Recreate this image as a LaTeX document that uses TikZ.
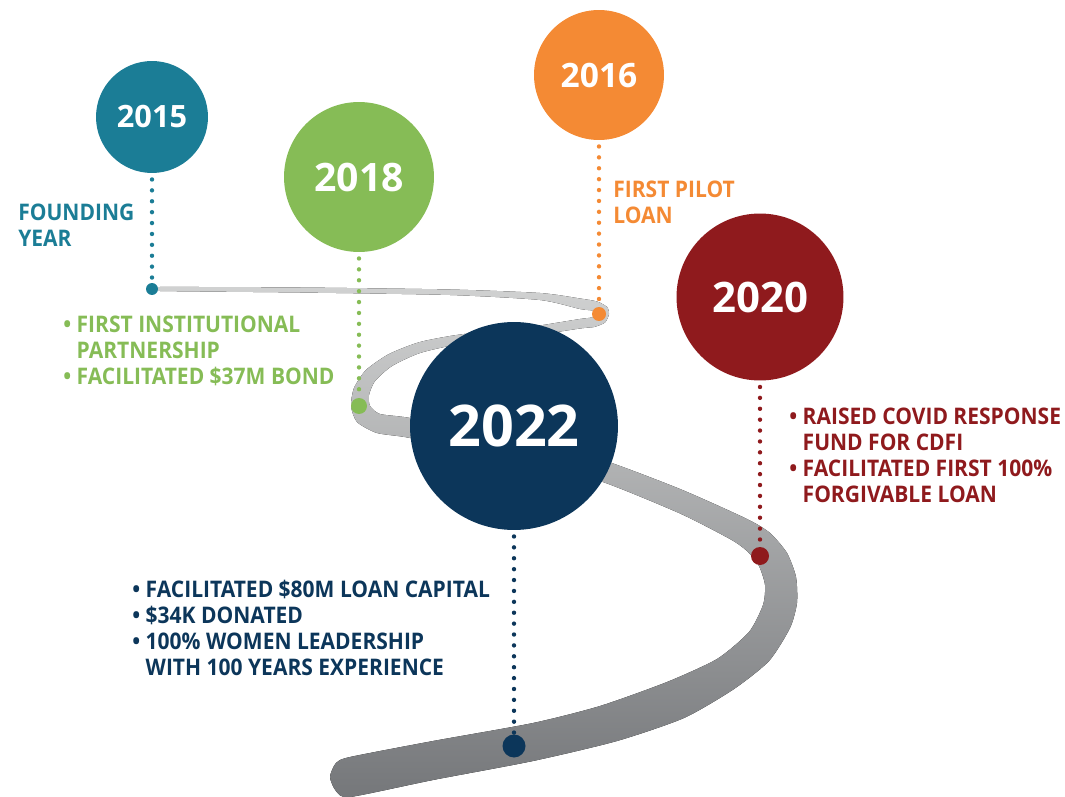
\documentclass[tikz,border=0pt]{standalone}
\usepackage{fontspec}
\setmainfont{Open Sans}
\newfontfamily\notefont{Open Sans}[FakeStretch=0.92]
\definecolor{founding}{HTML}{1B7D96}
\definecolor{bond}{HTML}{86BC56}
\definecolor{pilot}{HTML}{F48A34}
\definecolor{covid}{HTML}{8F1A1D}
\definecolor{capital}{HTML}{0C365A}
\definecolor{roadtop}{HTML}{D0D1D1}
\definecolor{roadbot}{HTML}{75777A}
\newcommand{\yrbullet}{\textbullet\ }
\newcommand{\yrindent}{\hphantom{\textbullet\ }}
\tikzset{
  year/.style={circle, fill=#1, text=white, inner sep=0pt},
  stop/.style={circle, fill=#1, inner sep=0pt},
  link/.style={draw=#1, line width=2.5pt, line cap=round,
    dash pattern=on 0pt off 6.2pt, shorten <=3.5pt},
  note/.style={text=#1, anchor=north west, inner sep=0pt, align=left,
    font=\notefont\bfseries\fontsize{13}{14.8}\selectfont}
}

\begin{document}
\begin{tikzpicture}[x=0.02cm, y=-0.02cm]
\useasboundingbox (0,0) rectangle (1065,797);
\fill[top color=roadtop, bottom color=roadbot] plot[smooth cycle, tension=0.4] coordinates {
  (150,289) (160,287) (300,287.5) (450,289.5) (540,293) (580,298.5) (597,301.5)
  (607,307) (609,314) (605,322.5) (594,327) (580,328.5) (520,337.5) (460,344)
  (420,353) (392,366) (375,381) (369,395) (370,406) (380,414) (410,418)
  (470,432) (540,446) (600,459) (680,489) (747,519) (770,533) (787,553)
  (796,577) (797,603) (790,628) (769,661) (734,689) (684,718) (617,741)
  (533,761) (433,780)
  (350,797) (336,791) (330,777) (336,763) (350,757)
  (433,741) (533,723) (600,706) (667,682) (717,659) (749,632) (763,605)
  (765,585) (759,566) (747,551) (730,539) (679,513) (600,481) (540,468)
  (470,454) (410,438) (377,433) (357,422) (351,406) (354,388) (366,370)
  (389,354) (420,342) (460,334.5) (520,328.5) (580,319) (592,317.5) (596,314)
  (592,310.5) (580,309) (540,300) (450,295) (300,292.5) (160,291)};

\node[year=founding, minimum size=2.24cm, font=\bfseries\fontsize{17.5}{20}\selectfont] (c15) at (152,117) {2015};
\node[year=bond, minimum size=3cm, font=\bfseries\fontsize{22.3}{26}\selectfont] (c18) at (359,177) {2018};
\node[year=pilot, minimum size=2.6cm, font=\bfseries\fontsize{19.1}{22}\selectfont] (c16) at (599,75) {2016};
\node[year=covid, minimum size=3.34cm, font=\bfseries\fontsize{23.9}{28}\selectfont] (c20) at (760,297) {2020};
\node[year=capital, minimum size=4.16cm, font=\bfseries\fontsize{32.7}{38}\selectfont] (c22) at (514,426) {2022};

\node[stop=founding, minimum size=0.24cm] (d15) at (152,289) {};
\node[stop=bond, minimum size=0.32cm] (d18) at (359,406) {};
\node[stop=pilot, minimum size=0.28cm] (d16) at (599,314) {};
\node[stop=covid, minimum size=0.36cm] (d20) at (760,556) {};
\node[stop=capital, minimum size=0.46cm] (d22) at (514,746) {};

\draw[link=founding] (c15) -- (d15);
\draw[link=bond] (c18) -- (d18);
\draw[link=pilot] (c16) -- (d16);
\draw[link=covid] (c20) -- (d20);
\draw[link=capital] (c22) -- (d22);

\node[note=founding] (t15) at (18,204) {FOUNDING\\YEAR};
\node[note=bond] (t18) at (63,316) {\yrbullet FIRST INSTITUTIONAL\\\yrindent PARTNERSHIP\\\yrbullet FACILITATED \$37M BOND};
\node[note=pilot] (t16) at (613,181) {FIRST PILOT\\LOAN};
\node[note=covid] (t20) at (789,408) {\yrbullet RAISED COVID RESPONSE\\\yrindent FUND FOR CDFI\\\yrbullet FACILITATED FIRST 100\%\\\yrindent FORGIVABLE LOAN};
\node[note=capital] (t22) at (132,580) {\yrbullet FACILITATED \$80M LOAN CAPITAL\\\yrbullet \$34K DONATED\\\yrbullet 100\% WOMEN LEADERSHIP\\\yrindent WITH 100 YEARS EXPERIENCE};
\end{tikzpicture}
\end{document}
